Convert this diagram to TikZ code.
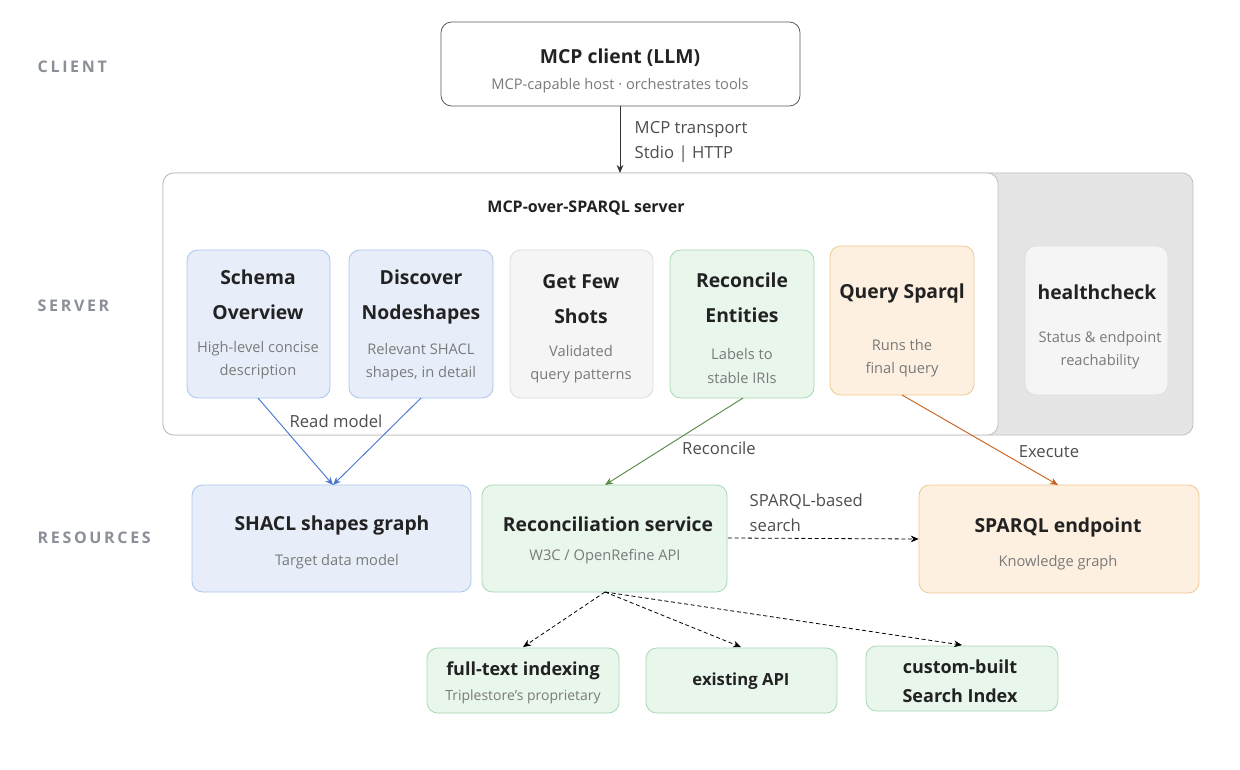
\documentclass[tikz,border=0pt]{standalone}
\usepackage{fontspec}
\setmainfont{Open Sans}
\usetikzlibrary{arrows.meta}
\definecolor{txt}{HTML}{222222}
\definecolor{sub}{HTML}{7A7A7A}
\definecolor{lane}{HTML}{8A8F98}
\definecolor{bfill}{HTML}{E8EEF9}\definecolor{bdraw}{HTML}{A9C4EC}
\definecolor{gfill}{HTML}{E9F6EC}\definecolor{gdraw}{HTML}{A8D8B4}
\definecolor{ofill}{HTML}{FDF0E0}\definecolor{odraw}{HTML}{F2C892}
\definecolor{nfill}{HTML}{F5F5F6}\definecolor{ndraw}{HTML}{DCDCDC}
\definecolor{blueA}{HTML}{4A78D0}\definecolor{greenA}{HTML}{5A8A48}\definecolor{orangeA}{HTML}{C8621E}
\tikzset{
 box/.style={rounded corners=8pt,line width=0.6pt},
 blue/.style={box,fill=bfill,draw=bdraw},
 green/.style={box,fill=gfill,draw=gdraw},
 orange/.style={box,fill=ofill,draw=odraw},
 neutral/.style={box,fill=nfill,draw=ndraw},
 ttl/.style={text=txt,font=\bfseries\fontsize{14.5}{26.5}\selectfont,align=center},
 ttls/.style={text=txt,font=\bfseries\fontsize{12.5}{17}\selectfont,align=center},
 sb/.style={text=sub,font=\fontsize{11}{17.5}\selectfont,align=center},
 lane/.style={text=lane,font=\bfseries\fontsize{12}{14}\selectfont,anchor=west},
 lbl/.style={text=txt!80,font=\fontsize{12.5}{19}\selectfont},
 arr/.style={-{Stealth[length=6pt,width=5pt]},line width=0.7pt},
 darr/.style={-{Stealth[length=6pt,width=5pt]},line width=0.6pt,dashed,dash pattern=on 3pt off 2pt}
}
\begin{document}
\begin{tikzpicture}[x=0.75pt,y=-0.75pt]
\useasboundingbox (0,0) rectangle (1240,770);
\fill[white] (0,0) rectangle (1240,770);
\node[lane] at (33,67) {C\,L\,I\,E\,N\,T};
\node[lane] at (33,306) {S\,E\,R\,V\,E\,R};
\node[lane] at (33,538) {R\,E\,S\,O\,U\,R\,C\,E\,S};
% client
\draw[box,draw=black!65,fill=white] (441,22) rectangle (800,106);
\node (client) at (620,64) [minimum width=270pt,minimum height=63pt] {};
\node[ttl] at (620,58) {MCP client (LLM)};
\node[sb] at (620,86) {MCP-capable host · orchestrates tools};
% server
\draw[box,fill=black!10,draw=black!25] (163,173) rectangle (1193,435);
\draw[box,fill=white,draw=black!25] (163,173) rectangle (998,435);
\coordinate (srvtop) at (620,173);
\draw[arr,black!80] (620,106) -- (srvtop);
\node[lbl,anchor=west,align=left] at (630,142) {MCP transport\\Stdio | HTTP};
\node[ttls,font=\bfseries\fontsize{12}{14}\selectfont] at (586,208) {MCP-over-SPARQL server};
% tools
\draw[blue] (187,250) rectangle (330,398); \coordinate (t1) at (258,398);
\node[ttl] at (258,295) {Schema\\Overview};
\node[sb] at (258,360) {High-level concise\\description};
\draw[blue] (349,250) rectangle (493,398); \coordinate (t2) at (421,398);
\node[ttl] at (421,297) {Discover\\Nodeshapes};
\node[sb] at (421,362) {Relevant SHACL\\shapes, in detail};
\draw[neutral] (510,250) rectangle (653,398);
\node[ttl] at (581,299) {Get Few\\Shots};
\node[sb] at (581,364) {Validated\\query patterns};
\draw[green] (670,250) rectangle (814,398); \coordinate (t4) at (743,398);
\node[ttl] at (742,298) {Reconcile\\Entities};
\node[sb] at (742,366) {Labels to\\stable IRIs};
\draw[orange] (830,246) rectangle (974,395); \coordinate (t5) at (902,395);
\node[ttl] at (902,293) {Query Sparql};
\node[sb] at (902,358) {Runs the\\final query};
\draw[neutral] (1025,246) rectangle (1168,395);
\node[ttl] at (1097,292) {healthcheck};
\node[sb] at (1100,350) {Status \& endpoint\\reachability};
% resources
\draw[blue] (192,485) rectangle (471,592);
\node (shacl) at (332,538) [minimum width=209pt,minimum height=80pt,inner sep=0pt] {};
\node[ttl] at (332,525) {SHACL shapes graph};
\node[sb] at (337,562) {Target data model};
\draw[green] (482,485) rectangle (727,592);
\node (rec) at (605,538) [minimum width=184pt,minimum height=80pt,inner sep=0pt] {};
\node[ttl] at (608,524) {Reconciliation service};
\node[sb] at (605,557) {W3C / OpenRefine API};
\draw[orange] (919,485) rectangle (1199,593);
\node (ep) at (1059,539) [minimum width=210pt,minimum height=81pt,inner sep=0pt] {};
\node[ttl] at (1058,527) {SPARQL endpoint};
\node[sb] at (1058,563) {Knowledge graph};
% bottom
\draw[green] (427,648) rectangle (619,713);
\node (ft) at (523,680) [minimum width=144pt,minimum height=49pt,inner sep=0pt] {};
\node[ttls,font=\bfseries\fontsize{13.5}{17}\selectfont] at (523,671) {full-text indexing};
\node[sb,font=\fontsize{10.5}{14}\selectfont] at (523,697) {Triplestore's proprietary};
\draw[green] (646,648) rectangle (837,713);
\node (ea) at (741,680) [minimum width=143pt,minimum height=49pt,inner sep=0pt] {};
\node[ttls] at (741,681) {existing API};
\draw[green] (866,646) rectangle (1058,711);
\node (cb) at (962,678) [minimum width=144pt,minimum height=49pt,inner sep=0pt] {};
\node[ttls,font=\bfseries\fontsize{13.5}{21.5}\selectfont] at (960,681) {custom-built\\Search Index};
% arrows
\draw[arr,blueA] (t1) -- (333,485);
\draw[arr,blueA] (t2) -- (333,485);
\node[lbl] at (336,421) {Read model};
\draw[arr,greenA] (t4) -- (605,485);
\node[lbl] at (719,448) {Reconcile};
\draw[arr,orangeA] (t5) -- (1058,485);
\node[lbl] at (1049,452) {Execute};
\draw[darr] (rec.east) -- (ep.west);
\node[lbl,anchor=west,align=left] at (745,513) {SPARQL-based\\search};
\coordinate (rb) at (605,592);
\draw[darr] (rb) -- (ft.north);
\draw[darr] (rb) -- (ea.north);
\draw[darr] (rb) -- (cb.north);
\end{tikzpicture}
\end{document}
